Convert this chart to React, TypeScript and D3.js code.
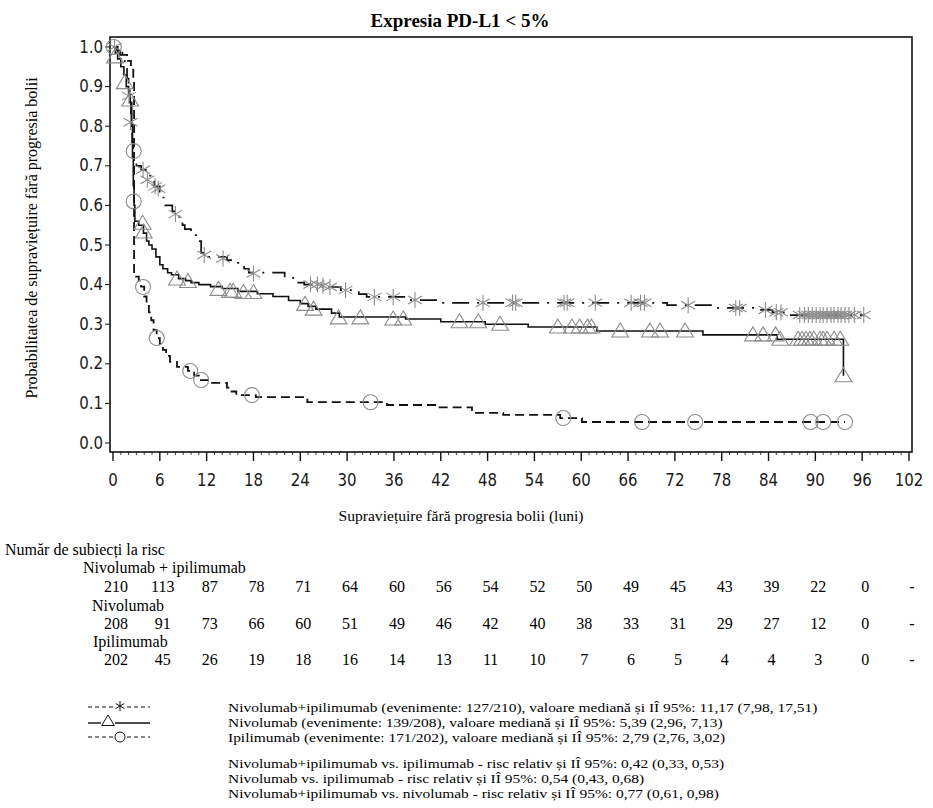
import React from "react";
import * as d3 from "d3";

const width = 933;
const height = 808;
const serif = "'Liberation Serif', 'Times New Roman', serif";
const sans = "'DejaVu Sans', Verdana, sans-serif";

const xTicks = d3.range(0, 103, 6);
const xMinor = d3.range(0, 103, 1);
const yTicks = d3.range(0, 11).map(v => v / 10);

// Kaplan-Meier steps: [month, survival after that month]
const comboSteps: [number, number][] = [
  [0, 1], [0.5, 0.99], [0.9, 0.98], [1.2, 0.965], [1.5, 0.945], [1.8, 0.92], [2.0, 0.89],
  [2.15, 0.86], [2.3, 0.81], [2.45, 0.76], [2.6, 0.72], [3.0, 0.7], [3.6, 0.69], [4.2, 0.675],
  [4.8, 0.66], [5.3, 0.648], [6.0, 0.635], [6.3, 0.62], [6.7, 0.6], [7.6, 0.585], [8.5, 0.565],
  [8.9, 0.55], [9.2, 0.54], [10.0, 0.525], [10.8, 0.51], [11.3, 0.48], [12.2, 0.47],
  [14.6, 0.462], [15.5, 0.455], [16.8, 0.44], [17.4, 0.43], [22.0, 0.417], [23.5, 0.405],
  [24.5, 0.4], [27.3, 0.394], [29.2, 0.386], [31.5, 0.376], [32.5, 0.369], [38.0, 0.361],
  [42.0, 0.354], [71.0, 0.348], [77.0, 0.341], [83.0, 0.336], [84.5, 0.33], [86.5, 0.323]
];
const comboEnd = 96.2;
const comboCensored: [number, number][] = [
  [0.2, 1.0], [2.05, 0.876], [2.25, 0.81], [3.85, 0.69], [4.4, 0.665], [5.4, 0.648],
  [5.8, 0.642], [8.0, 0.578], [11.7, 0.475], [14.1, 0.466], [18.0, 0.428], [25.3, 0.4],
  [26.2, 0.4], [26.9, 0.397], [27.8, 0.394], [29.8, 0.386], [33.5, 0.369], [35.9, 0.369],
  [38.7, 0.361], [47.4, 0.354], [51.2, 0.354], [51.6, 0.354], [57.8, 0.354], [58.2, 0.354],
  [61.8, 0.354], [66.4, 0.354], [67.6, 0.354], [68.1, 0.354], [73.7, 0.348], [79.8, 0.341],
  [80.3, 0.341], [83.6, 0.336], [85.0, 0.33], [85.6, 0.33], [88.0, 0.323], [88.6, 0.323],
  [89.1, 0.323], [89.6, 0.323], [90.1, 0.323], [90.6, 0.323], [91.0, 0.323], [91.5, 0.323],
  [92.0, 0.323], [92.4, 0.323], [92.9, 0.323], [93.3, 0.323], [93.8, 0.323], [94.3, 0.323],
  [95.0, 0.323], [96.2, 0.323]
];

const nivoSteps: [number, number][] = [
  [0, 1], [0.3, 0.985], [0.6, 0.97], [1.0, 0.95], [1.4, 0.93], [1.7, 0.9], [2.0, 0.88],
  [2.2, 0.86], [2.4, 0.8], [2.5, 0.72], [2.6, 0.65], [2.7, 0.6], [2.8, 0.56], [3.3, 0.55],
  [3.9, 0.53], [4.3, 0.51], [4.6, 0.5], [5.0, 0.49], [5.5, 0.47], [6.0, 0.45], [6.4, 0.44],
  [7.0, 0.43], [7.5, 0.425], [8.4, 0.415], [9.3, 0.41], [10.0, 0.405], [11.0, 0.4],
  [12.5, 0.395], [14.0, 0.39], [16.0, 0.383], [18.5, 0.377], [20.5, 0.37], [22.5, 0.36],
  [24.0, 0.352], [25.0, 0.345], [26.0, 0.338], [28.0, 0.328], [29.0, 0.318], [37.5, 0.313],
  [42.0, 0.306], [47.7, 0.3], [53.2, 0.293], [62.0, 0.283], [75.6, 0.273], [85.1, 0.262],
  [93.6, 0.17]
];
const nivoEnd = 93.6;
const nivoCensored: [number, number][] = [
  [0.25, 0.975], [1.5, 0.91], [2.2, 0.866], [3.8, 0.555], [3.95, 0.533], [8.2, 0.414],
  [9.6, 0.408], [13.5, 0.388], [15.0, 0.383], [15.4, 0.383], [16.7, 0.38], [18.0, 0.38],
  [24.6, 0.35], [25.7, 0.338], [28.9, 0.316], [31.7, 0.316], [35.9, 0.313], [37.2, 0.313],
  [44.4, 0.306], [46.8, 0.306], [49.6, 0.3], [57.0, 0.293], [58.8, 0.293], [59.8, 0.293],
  [60.8, 0.293], [61.3, 0.293], [65.0, 0.283], [68.8, 0.283], [70.1, 0.283], [73.3, 0.283],
  [82.0, 0.273], [83.3, 0.273], [84.9, 0.273], [85.5, 0.262], [87.8, 0.262], [88.3, 0.262],
  [88.8, 0.262], [89.3, 0.262], [89.8, 0.262], [90.6, 0.262], [91.0, 0.262], [91.5, 0.262],
  [92.4, 0.262], [93.2, 0.262], [93.6, 0.17]
];

const ipiSteps: [number, number][] = [
  [0, 1], [0.6, 0.99], [1.2, 0.98], [1.8, 0.965], [2.3, 0.95], [2.6, 0.92], [2.7, 0.42],
  [3.3, 0.41], [3.6, 0.395], [4.0, 0.37], [4.3, 0.35], [4.6, 0.33], [4.9, 0.31], [5.2, 0.285],
  [5.6, 0.265], [6.0, 0.25], [6.4, 0.235], [6.8, 0.22], [7.3, 0.205], [8.2, 0.192],
  [9.6, 0.182], [10.4, 0.17], [11.0, 0.159], [12.5, 0.152], [14.6, 0.14], [15.2, 0.13],
  [15.8, 0.121], [18.3, 0.116], [24.9, 0.103], [35.1, 0.096], [41.7, 0.09], [46.0, 0.076],
  [50.0, 0.071], [57.3, 0.063], [60.1, 0.053]
];
const ipiEnd = 93.8;
const ipiCensored: [number, number][] = [
  [0.1, 1.0], [2.65, 0.737], [2.65, 0.61], [3.85, 0.394], [5.6, 0.265], [9.9, 0.182],
  [11.3, 0.159], [17.8, 0.121], [33.0, 0.103], [57.7, 0.063], [67.8, 0.053], [74.6, 0.053],
  [89.4, 0.053], [91.0, 0.053], [93.8, 0.053]
];

// numbers at risk, one column per x tick (0..102)
const riskCombo = ["210", "113", "87", "78", "71", "64", "60", "56", "54", "52", "50", "49", "45", "43", "39", "22", "0", "-"];
const riskNivo = ["208", "91", "73", "66", "60", "51", "49", "46", "42", "40", "38", "33", "31", "29", "27", "12", "0", "-"];
const riskIpi = ["202", "45", "26", "19", "18", "16", "14", "13", "11", "10", "7", "6", "5", "4", "4", "3", "0", "-"];

const legendLines = [
  "Nivolumab+ipilimumab (evenimente: 127/210), valoare mediană și IÎ 95%: 11,17 (7,98, 17,51)",
  "Nivolumab (evenimente: 139/208), valoare mediană și IÎ 95%: 5,39 (2,96, 7,13)",
  "Ipilimumab (evenimente: 171/202), valoare mediană și IÎ 95%: 2,79 (2,76, 3,02)"
];
const hrLines = [
  "Nivolumab+ipilimumab vs. ipilimumab - risc relativ și IÎ 95%: 0,42 (0,33, 0,53)",
  "Nivolumab vs. ipilimumab - risc relativ și IÎ 95%: 0,54 (0,43, 0,68)",
  "Nivolumab+ipilimumab vs. nivolumab - risc relativ și IÎ 95%: 0,77 (0,61, 0,98)"
];

const plot = { left: 110, right: 912, top: 37, bottom: 452 };
const xScale = d3.scaleLinear().domain([0, 102]).range([113, 909]);
const yScale = d3.scaleLinear().domain([0, 1]).range([443, 47]);
const markColor = "#8c8c8c";

const stepLine = d3
  .line<[number, number]>()
  .x(d => xScale(d[0]))
  .y(d => yScale(d[1]))
  .curve(d3.curveStepAfter);

const withEnd = (steps: [number, number][], end: number): [number, number][] => [
  ...steps,
  [end, steps[steps.length - 1][1]]
];

const Star = ({ x, y, r }) => {
  const c = r * Math.cos(Math.PI / 6);
  const s = r * Math.sin(Math.PI / 6);
  return (
    <path
      d={`M${x},${y - r}L${x},${y + r}M${x - c},${y - s}L${x + c},${y + s}M${x - c},${y + s}L${x + c},${y - s}`}
    />
  );
};

const Tri = ({ x, y, r }) => (
  <path d={`M${x},${y - r}L${x + r * 1.05},${y + r * 0.75}L${x - r * 1.05},${y + r * 0.75}Z`} />
);

const StretchText = ({ x, y, children, anchor = "middle", size = 15 }) => (
  <text
    transform={`translate(${x},${y}) scale(1,1.15)`}
    textAnchor={anchor}
    fontFamily={sans}
    fontSize={size}
    fill="#1a1a1a"
  >
    {children}
  </text>
);

// legend text: narrow height, same width as the reference
const WideText = ({ x, y, children }) => (
  <text transform={`translate(${x},${y}) scale(1.19,1)`} fontFamily={serif} fontSize={13}>
    {children}
  </text>
);

const App = () => {
  const riskRows = [
    { label: "Nivolumab + ipilimumab", labelX: 83, labelY: 573, y: 592, values: riskCombo },
    { label: "Nivolumab", labelX: 92, labelY: 611, y: 629, values: riskNivo },
    { label: "Ipilimumab", labelX: 93, labelY: 647, y: 665, values: riskIpi }
  ];
  const legendY = [712, 727, 742];
  const hrY = [768, 783, 798];

  return (
    <svg
      width={width}
      height={height}
      style={{ position: "absolute", left: 0, top: 0, background: "#fff" }}
    >
      <rect x={0} y={0} width={width} height={height} fill="#fff" />
      <text x={460} y={27} textAnchor="middle" fontFamily={serif} fontWeight="bold" fontSize={19}>
        Expresia PD-L1 &lt; 5%
      </text>

      {/* frame */}
      <rect
        x={plot.left}
        y={plot.top}
        width={plot.right - plot.left}
        height={plot.bottom - plot.top}
        fill="none"
        stroke="#111"
        strokeWidth={1.6}
      />

      {/* y axis */}
      {yTicks.map(t => (
        <g key={t}>
          <line x1={plot.left - 5} x2={plot.left} y1={yScale(t)} y2={yScale(t)} stroke="#111" />
          <StretchText x={103} y={yScale(t) + 5.5} anchor="end">
            {t.toFixed(1)}
          </StretchText>
        </g>
      ))}

      {/* x axis */}
      {xMinor.map(t => (
        <line
          key={t}
          x1={xScale(t)}
          x2={xScale(t)}
          y1={plot.bottom}
          y2={plot.bottom + (t % 6 === 0 ? 9 : 3)}
          stroke="#111"
          strokeWidth={t % 6 === 0 ? 1.4 : 0.8}
        />
      ))}
      {xTicks.map(t => (
        <StretchText key={t} x={xScale(t)} y={486}>
          {t}
        </StretchText>
      ))}

      <text
        transform="translate(37,238) rotate(-90)"
        textAnchor="middle"
        fontFamily={serif}
        fontSize={16}
      >
        Probabilitatea de supraviețuire fără progresia bolii
      </text>
      <text x={461} y={521} textAnchor="middle" fontFamily={serif} fontSize={15.6}>
        Supraviețuire fără progresia bolii (luni)
      </text>

      {/* curves */}
      <path
        d={stepLine(withEnd(ipiSteps, ipiEnd)) || ""}
        fill="none"
        stroke="#111"
        strokeWidth={1.8}
        strokeDasharray="9,5"
      />
      <path
        d={stepLine(withEnd(nivoSteps, nivoEnd)) || ""}
        fill="none"
        stroke="#111"
        strokeWidth={1.6}
      />
      <path
        d={stepLine(withEnd(comboSteps, comboEnd)) || ""}
        fill="none"
        stroke="#111"
        strokeWidth={1.7}
        strokeDasharray="17,8,2,8"
      />

      {/* censor marks */}
      <g fill="none" stroke={markColor} strokeWidth={1.1}>
        {ipiCensored.map((d, i) => (
          <circle key={i} cx={xScale(d[0])} cy={yScale(d[1])} r={7.5} />
        ))}
        {nivoCensored.map((d, i) => (
          <Tri key={i} x={xScale(d[0])} y={yScale(d[1])} r={8} />
        ))}
        {comboCensored.map((d, i) => (
          <Star key={i} x={xScale(d[0])} y={yScale(d[1])} r={8} />
        ))}
      </g>

      {/* number at risk */}
      <text x={5} y={555} fontFamily={serif} fontSize={16}>
        Număr de subiecți la risc
      </text>
      {riskRows.map(row => (
        <g key={row.label} fontFamily={serif} fontSize={16}>
          <text x={row.labelX} y={row.labelY}>
            {row.label}
          </text>
          {row.values.map((v, i) => (
            <text key={i} x={xScale(xTicks[i]) + 3} y={row.y} textAnchor="middle">
              {v}
            </text>
          ))}
        </g>
      ))}

      {/* legend symbols */}
      <g stroke="#111" fill="none" strokeWidth={1}>
        <line x1={88} x2={113} y1={legendY[0] - 5} y2={legendY[0] - 5} strokeDasharray="4,3" />
        <line x1={127} x2={150} y1={legendY[0] - 5} y2={legendY[0] - 5} strokeDasharray="4,3" />
        <Star x={120} y={legendY[0] - 6} r={5} />
        <line x1={88} x2={101} y1={legendY[1] - 4} y2={legendY[1] - 4} strokeWidth={1.4} />
        <line x1={115} x2={150} y1={legendY[1] - 4} y2={legendY[1] - 4} strokeWidth={1.4} />
        <Tri x={108} y={legendY[1] - 6} r={6} />
        <line x1={88} x2={113} y1={legendY[2] - 5} y2={legendY[2] - 5} strokeDasharray="4,3" />
        <line x1={127} x2={150} y1={legendY[2] - 5} y2={legendY[2] - 5} strokeDasharray="4,3" />
        <circle cx={120} cy={legendY[2] - 5} r={5} />
      </g>
      {legendLines.map((t, i) => (
        <WideText key={t} x={228} y={legendY[i]}>
          {t}
        </WideText>
      ))}
      {hrLines.map((t, i) => (
        <WideText key={t} x={228} y={hrY[i]}>
          {t}
        </WideText>
      ))}
    </svg>
  );
};

export default App;
